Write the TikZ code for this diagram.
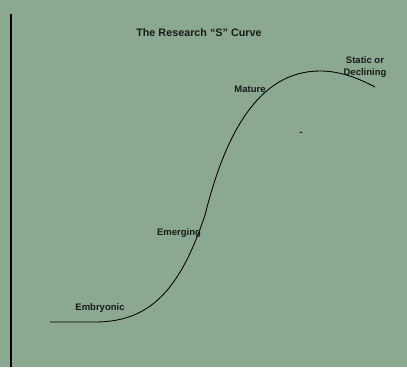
\documentclass[tikz,border=0pt]{standalone}
\usepackage{fontspec}
\setmainfont{Liberation Sans}
\definecolor{sage}{RGB}{139,169,145}
\begin{document}
\begin{tikzpicture}[x=1pt,y=-1pt,
  lbl/.style={font=\bfseries\fontsize{9.5}{12}\selectfont, text=black!90, inner sep=0pt, align=center},
  curve/.style={line width=0.85pt, black}]
  % canvas
  \fill[sage] (0,0) rectangle (407,367);
  \useasboundingbox (0,0) rectangle (407,367);
  % left axis
  \coordinate (axtop) at (11,14);
  \coordinate (axbot) at (11,367);
  \draw[line width=1.8pt, black] (axtop) -- (axbot);
  % the S curve
  \coordinate (c0) at (50,322);
  \coordinate (c1) at (95,322);
  \coordinate (c2) at (205,215);
  \coordinate (c3) at (320,71);
  \coordinate (c4) at (375,87);
  \draw[curve] (c0) -- (c1) .. controls (150,322) and (180,290) .. (c2)
    .. controls (225,135) and (258,71) .. (c3)
    .. controls (340,71) and (358,78) .. (c4);
  % labels
  \node[lbl, font=\bfseries\fontsize{10.8}{13}\selectfont] (title) at (199,33) {The Research “S” Curve};
  \node[lbl] (mature) at (250,89) {Mature};
  \node[lbl] (static) at (365,67) {Static or\\Declining};
  \node[lbl] (emerging) at (179,233) {Emerging};
  \node[lbl] (embryonic) at (100,308) {Embryonic};
  \node[lbl, font=\bfseries\fontsize{10}{10}\selectfont] (tick) at (301,134) {-};
\end{tikzpicture}
\end{document}
